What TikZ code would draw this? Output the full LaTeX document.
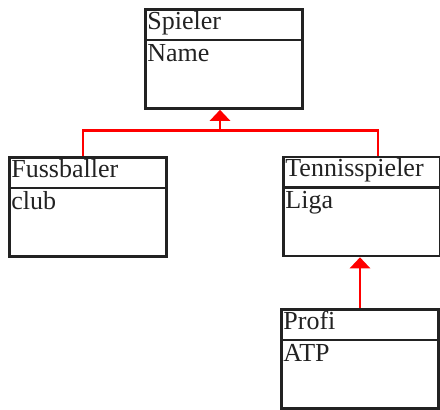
\documentclass[tikz,border=0pt]{standalone}
\usepackage{fontspec}
\setmainfont{Liberation Serif}
\usetikzlibrary{arrows.meta,positioning,calc}
\definecolor{Ink}{HTML}{222222}
\definecolor{Inherit}{HTML}{FF0000}
\tikzset{
  classbox/.style={draw=Ink,line width=2.6pt,minimum width=157pt,minimum height=99pt,inner sep=0pt},
  label/.style={anchor=base west,inner sep=0pt,font=\fontsize{26}{26}\selectfont,text=Ink},
  gen/.style={-{Triangle[width=20pt,length=11pt]},line width=2.6pt,draw=Inherit}
}
% class box: name, header text, attribute text
\newcommand\umlclass[3]{%
  \draw[Ink,line width=2.6pt] ($(#1.north west)+(0,-32pt)$) -- ($(#1.north east)+(0,-32pt)$);
  \node[label] at ($(#1.north west)+(3pt,-21pt)$) {#2};
  \node[label] at ($(#1.north west)+(3pt,-53pt)$) {#3};
}

\begin{document}
\begin{tikzpicture}[x=1pt,y=1pt]
  \useasboundingbox (0,0) rectangle (440,410);
  \node[classbox] (spieler) at (224,351) {};
  \node[classbox] (fussballer) at (88,203) {};
  \node[classbox] (tennis) at (362,203.5) {};
  \node[classbox] (profi) at (360,51) {};
  \umlclass{spieler}{Spieler}{Name}
  \umlclass{fussballer}{Fussballer}{club}
  \umlclass{tennis}{Tennisspieler}{Liga}
  \umlclass{profi}{Profi}{ATP}
  % generalisation lines
  \coordinate (join) at ($(spieler.south)+(-4,-21)$);
  \draw[gen] (join) -- (join |- spieler.south);
  \draw[gen,-] ([xshift=-5pt]fussballer.north) |- (join) -| ([xshift=16pt]tennis.north);
  \draw[gen] (profi.north) -- (profi.north |- tennis.south);
\end{tikzpicture}
\end{document}
